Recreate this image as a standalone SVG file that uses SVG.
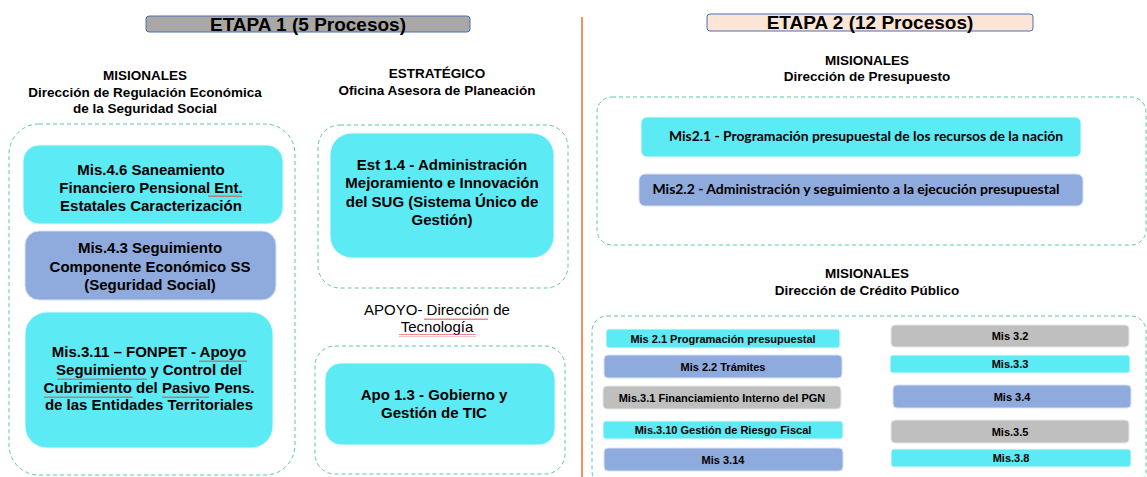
<svg xmlns="http://www.w3.org/2000/svg" width="1147" height="477" viewBox="0 0 1147 477">
<style>
text{font-family:"Liberation Sans",Arial,sans-serif;fill:#000;text-anchor:middle}
.title{font-size:19px;font-weight:bold}
.hdr{font-size:13.5px;font-weight:bold}
.big{font-size:15px;font-weight:bold}
.apoyo{font-size:15px}
.cal{font-family:Lato,"Liberation Sans",sans-serif;font-size:14px;font-weight:bold}
.sm{font-size:11px;font-weight:bold}
.grp{fill:none;stroke:#5FC7A2;stroke-width:1;stroke-dasharray:4 3}
.cyan{fill:#5CEAF4;stroke:#E6FAFC;stroke-width:1}
.blue{fill:#8FAADC;stroke:#D9E2F3;stroke-width:1}
.gray{fill:#BFBFBF;stroke:#E8E8E8;stroke-width:1}
.sq{fill:none;stroke:#E04040;stroke-width:0.8}
</style>
<defs>
<pattern id="wave" width="4" height="3" patternUnits="userSpaceOnUse"><path d="M0 2 L1 0.5 L2 2 L3 0.5 L4 2" fill="none" stroke="#E04040" stroke-width="0.7"/></pattern>
</defs>

<line x1="582" y1="17" x2="582" y2="477" stroke="#F2945A" stroke-width="2"/>

<g id="title1">
<rect x="146" y="16" width="324" height="16" rx="3" fill="#AAA8A6" stroke="#4A6FB5" stroke-width="1"/>
<text class="title" x="308" y="31">ETAPA 1 (5 Procesos)</text>
</g>
<g id="title2">
<rect x="707" y="14" width="326" height="17" rx="3" fill="#FCE5D7" stroke="#4A6FB5" stroke-width="1"/>
<text class="title" x="870" y="29">ETAPA 2 (12 Procesos)</text>
</g>

<g id="hdr-regulacion">
<text class="hdr" x="145" y="80">MISIONALES</text>
<text class="hdr" x="145" y="97">Dirección de Regulación Económica</text>
<text class="hdr" x="145" y="113">de la Seguridad Social</text>
</g>
<g id="hdr-estrategico">
<text class="hdr" x="437" y="78">ESTRATÉGICO</text>
<text class="hdr" x="437" y="95">Oficina Asesora de Planeación</text>
</g>
<g id="hdr-presupuesto">
<text class="hdr" x="867" y="65">MISIONALES</text>
<text class="hdr" x="867" y="81">Dirección de Presupuesto</text>
</g>
<g id="hdr-credito">
<text class="hdr" x="867" y="278">MISIONALES</text>
<text class="hdr" x="867" y="295">Dirección de Crédito Público</text>
</g>
<g id="hdr-apoyo">
<text class="apoyo" x="437" y="315">APOYO- Dirección de</text>
<text class="apoyo" x="437" y="332">Tecnología</text>
<rect x="424" y="317" width="64" height="3" fill="url(#wave)"/>
<rect x="399" y="334" width="77" height="3" fill="url(#wave)"/>
</g>

<g id="containers">
<rect class="grp" x="9" y="124" width="286" height="351" rx="30"/>
<rect class="grp" x="318" y="125" width="250" height="163" rx="22"/>
<rect class="grp" x="315" y="346" width="250" height="128" rx="20"/>
<rect class="grp" x="597" y="97" width="549" height="148" rx="15"/>
<rect class="grp" x="592" y="316" width="554" height="170" rx="15"/>
</g>

<g id="mis46">
<rect class="cyan" x="23" y="145" width="260" height="79" rx="16"/>
<text class="big" x="151" y="175">Mis.4.6 Saneamiento</text>
<text class="big" x="151" y="193">Financiero Pensional Ent.</text>
<text class="big" x="151" y="211">Estatales Caracterización</text>
<rect x="208" y="195" width="34" height="3" fill="url(#wave)"/>
</g>
<g id="mis43">
<rect class="blue" x="25" y="231" width="251" height="69" rx="14"/>
<text class="big" x="150" y="253">Mis.4.3 Seguimiento</text>
<text class="big" x="150" y="271.5">Componente Económico SS</text>
<text class="big" x="150" y="290">(Seguridad Social)</text>
</g>
<g id="mis311">
<rect class="cyan" x="25" y="312" width="248" height="136" rx="22"/>
<text class="big" x="149" y="357">Mis.3.11 – FONPET - Apoyo</text>
<text class="big" x="149" y="375">Seguimiento y Control del</text>
<text class="big" x="149" y="392.5">Cubrimiento del Pasivo Pens.</text>
<text class="big" x="149" y="410">de las Entidades Territoriales</text>
<rect x="199" y="359" width="48" height="3" fill="url(#wave)"/>
<rect x="57" y="377" width="90" height="3" fill="url(#wave)"/>
<rect x="44" y="395" width="89" height="3" fill="url(#wave)"/>
<rect x="162" y="395" width="47" height="3" fill="url(#wave)"/>
</g>

<g id="est14">
<rect class="cyan" x="330" y="133" width="224" height="125" rx="22"/>
<text class="big" x="442" y="170">Est 1.4 - Administración</text>
<text class="big" x="442" y="188">Mejoramiento e Innovación</text>
<text class="big" x="442" y="207">del SUG (Sistema Único de</text>
<text class="big" x="442" y="225">Gestión)</text>
</g>
<g id="apo13">
<rect class="cyan" x="325" y="363" width="230" height="82" rx="16"/>
<text class="big" x="434" y="400">Apo 1.3 - Gobierno y</text>
<text class="big" x="434" y="418">Gestión de TIC</text>
</g>

<g id="mis21-pres">
<rect class="cyan" x="641" y="117" width="440" height="40" rx="6"/>
<text class="cal" x="866" y="141" textLength="394" lengthAdjust="spacingAndGlyphs">Mis2.1 - Programación presupuestal de los recursos de la nación</text>
</g>
<g id="mis22-pres">
<rect class="blue" x="639" y="174" width="444" height="32" rx="6"/>
<text class="cal" x="856" y="194" textLength="407" lengthAdjust="spacingAndGlyphs">Mis2.2 - Administración y seguimiento a la ejecución presupuestal</text>
</g>

<g id="c-mis21">
<rect class="cyan" x="606" y="329" width="234" height="19" rx="3"/>
<text class="sm" x="723" y="342.5">Mis 2.1 Programación presupuestal</text>
</g>
<g id="c-mis22">
<rect class="blue" x="604" y="355" width="238" height="23" rx="4"/>
<text class="sm" x="723" y="370.5">Mis 2.2 Trámites</text>
</g>
<g id="c-mis31">
<rect class="gray" x="603" y="386" width="238" height="23" rx="4"/>
<text class="sm" x="722" y="401.5">Mis.3.1 Financiamiento Interno del PGN</text>
</g>
<g id="c-mis310">
<rect class="cyan" x="603" y="421" width="240" height="18" rx="3"/>
<text class="sm" x="723" y="434">Mis.3.10 Gestión de Riesgo Fiscal</text>
</g>
<g id="c-mis314">
<rect class="blue" x="604" y="448" width="239" height="23" rx="4"/>
<text class="sm" x="723" y="463.5">Mis 3.14</text>
</g>
<g id="c-mis32">
<rect class="gray" x="891" y="325" width="238" height="22" rx="4"/>
<text class="sm" x="1010" y="340">Mis 3.2</text>
</g>
<g id="c-mis33">
<rect class="cyan" x="890" y="355" width="240" height="18" rx="3"/>
<text class="sm" x="1010" y="368">Mis.3.3</text>
</g>
<g id="c-mis34">
<rect class="blue" x="893" y="385" width="238" height="23" rx="4"/>
<text class="sm" x="1012" y="400.5">Mis 3.4</text>
</g>
<g id="c-mis35">
<rect class="gray" x="891" y="420" width="238" height="23" rx="4"/>
<text class="sm" x="1010" y="435.5">Mis.3.5</text>
</g>
<g id="c-mis38">
<rect class="cyan" x="891" y="449" width="240" height="18" rx="3"/>
<text class="sm" x="1011" y="462">Mis.3.8</text>
</g>
</svg>
